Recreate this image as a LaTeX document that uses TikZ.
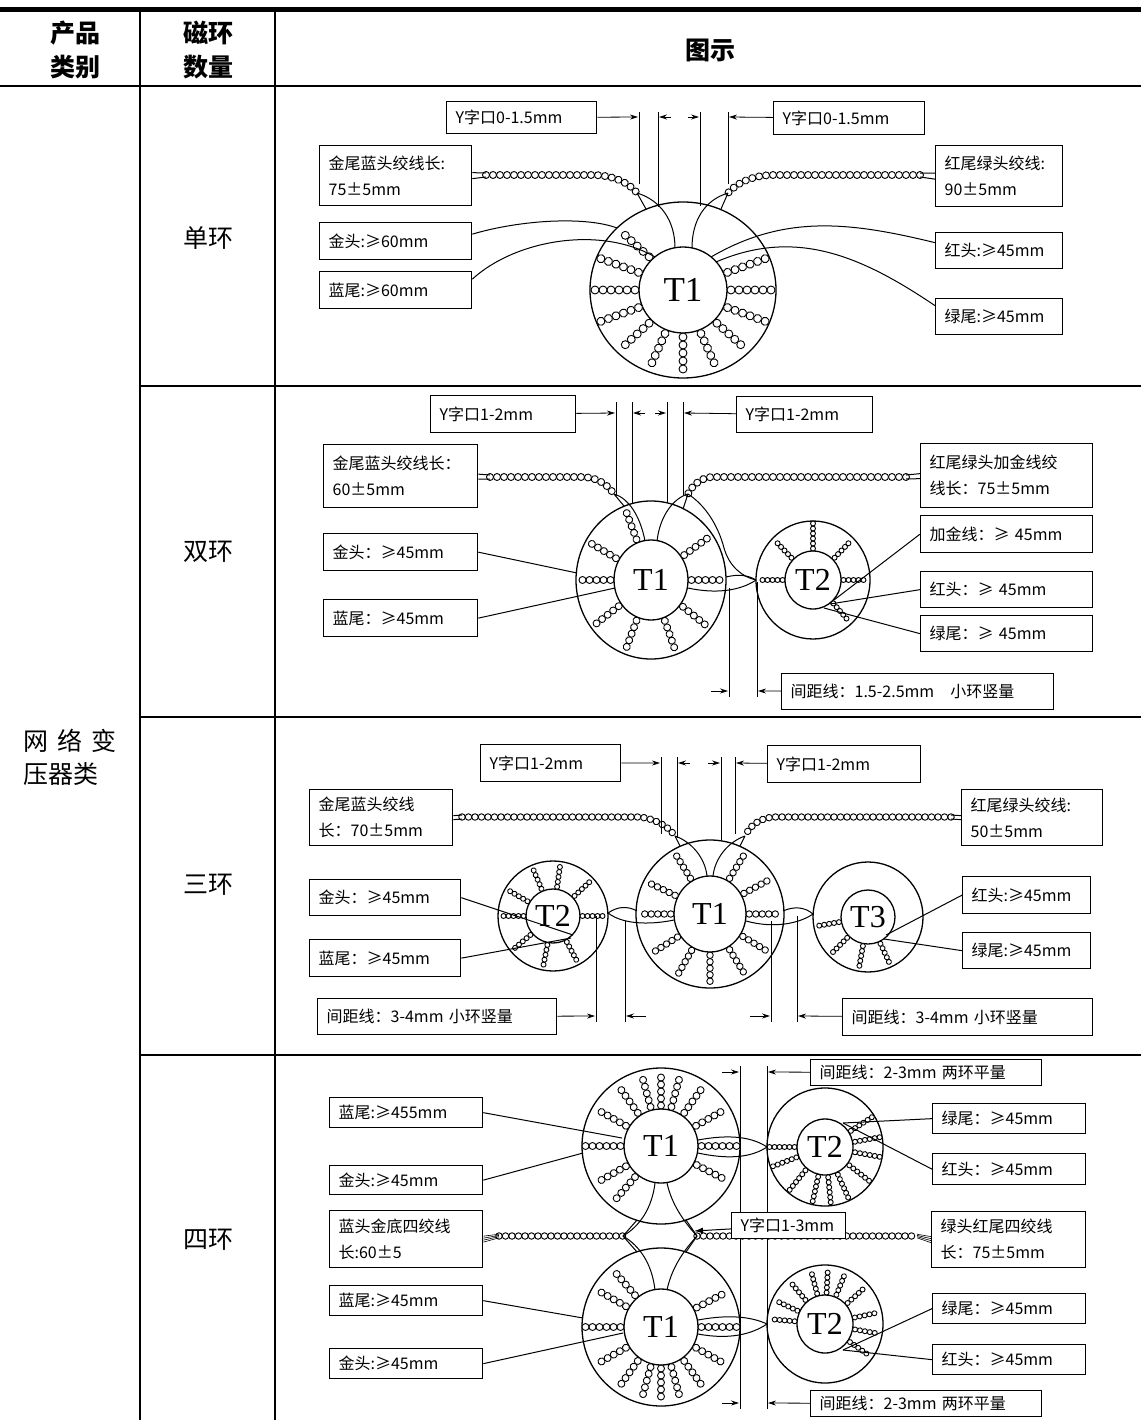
\documentclass[tikz,border=0pt]{standalone}
\usepackage{fontspec}
\setmainfont{Liberation Serif}
\newfontfamily\cjk{Noto Sans CJK SC}
\usetikzlibrary{arrows.meta,decorations.markings,calc}

\tikzset{
  grid/.style={line width=2.5pt},
  head/.style={font=\cjk\bfseries\fontsize{25}{34}\selectfont, align=center},
  cat/.style={font=\cjk\fontsize{25}{33}\selectfont, align=left},
  lbl/.style={draw, line width=1.3pt, fill=white, inner xsep=9pt, inner ysep=0pt, align=left, font=\cjk\fontsize{16}{26}\selectfont},
  tlabel/.style={inner sep=0pt, font=\fontsize{32}{32}\selectfont},
  ringline/.style={line width=1.3pt},
  wire/.style={line width=1pt},
  dimline/.style={line width=0.8pt},
  dimarrow/.style={line width=0.8pt, -{Stealth[length=8pt,width=5pt]}},
  bead/.style={line width=0.9pt, fill=white},
  beads/.style={postaction={decorate, decoration={markings,
    mark=between positions 0 and 1 step #1pt with {\draw[bead] (0,0) circle [radius={#1*0.5pt}];}}}},
}

% box: name, x1, y1, x2, y2, text
\newcommand\lbox[6]{%
  \pgfmathsetmacro\boxw{#4-#2-18}%
  \pgfmathsetmacro\boxh{#5-#3}%
  \node[lbl, anchor=north west, text width=\boxw pt, minimum height=\boxh pt] (#1) at (#2,#3) {#6};}

% ring: center, outer rx, outer ry, inner rx, inner ry, bead step, spoke angles, label, name
\newcommand\toroid[9]{%
  \coordinate (#9) at (#1);
  \draw[ringline] (#9) ellipse [x radius=#2, y radius=#3];
  \draw[ringline] (#9) ellipse [x radius=#4, y radius=#5];
  \foreach \a in {#7}{%
    \pgfmathsetmacro\ia{#4+#6/2}\pgfmathsetmacro\ib{#5+#6/2}%
    \pgfmathsetmacro\oa{#2-#6/2}\pgfmathsetmacro\ob{#3-#6/2}%
    \path[beads=#6] ($(#9)+({\ia*cos(\a)},{-\ib*sin(\a)})$) -- ($(#9)+({\oa*cos(\a)},{-\ob*sin(\a)})$);
  }
  \node[tlabel] at (#9) {#8};
}

\begin{document}
\begin{tikzpicture}[x=1pt, y=-1pt]
\useasboundingbox (0,0) rectangle (1141,1420);

% Table
\draw[line width=5pt] (0,10) -- (1141,10);
\draw[grid] (0,86) -- (1141,86);
\draw[grid] (140,8) -- (140,1420) (275,8) -- (275,1420);
\draw[grid] (140,386) -- (1141,386) (140,717) -- (1141,717) (140,1055) -- (1141,1055);
\node[head] (hcat) at (75,50) {产品\\类别};
\node[head] (hnum) at (208,50) {磁环\\数量};
\node[head] (hpic) at (710,50) {图示};
\node[cat, anchor=west] (net) at (20,757) {网\hspace{9pt}络\hspace{9pt}变\\压器类};
\node[cat] (n1) at (208,238) {单环};
\node[cat] (n2) at (208,552) {双环};
\node[cat] (n3) at (208,885) {三环};
\node[cat] (n4) at (208,1240) {四环};

% Single ring
\lbox{yl1}{446}{101}{596}{133}{Y字口0-1.5mm}
\lbox{yr1}{773}{101}{924}{134}{Y字口0-1.5mm}
\lbox{tpl1}{319}{145}{471}{205}{金尾蓝头绞线长:\\75±5mm}
\lbox{tpr1}{935}{145}{1062}{206}{红尾绿头绞线:\\90±5mm}
\lbox{jt1}{319}{222}{471}{259}{金头:≥60mm}
\lbox{lw1}{319}{271}{471}{308}{蓝尾:≥60mm}
\lbox{ht1}{935}{232}{1062}{268}{红头:≥45mm}
\lbox{gw1}{935}{298}{1062}{334}{绿尾:≥45mm}
\tikzset{tlabel/.append style={font=\fontsize{35}{35}\selectfont}}
\toroid{683,290}{93}{88}{44}{43}{8}{0,22,-22,-45,-68,-90,-112,-135,135,158,-158,180}{T1}{r1}
\tikzset{tlabel/.append style={font=\fontsize{32}{32}\selectfont}}
\coordinate (p1a) at (486,175); \coordinate (e1l) at (637,193);
\coordinate (p1b) at (920,175); \coordinate (e1r) at (728,193);
\path[beads=7] (p1a) -- (592,175) .. controls (612,175) and (628,182) .. (e1l);
\path[beads=7] (p1b) -- (774,175) .. controls (754,175) and (738,182) .. (e1r);
\draw[wire] ($(tpl1.east)+(0,-3)$) -- ($(p1a)+(0,-2)$) ($(tpl1.east)+(0,3)$) -- ($(p1a)+(0,2)$);
\draw[wire] ($(tpr1.west)+(0,-3)$) -- ($(p1b)+(0,-2)$) ($(tpr1.west)+(0,3)$) -- ($(p1b)+(0,2)$);
\coordinate (y1a) at (646,209); \coordinate (y1b) at (675,248);
\coordinate (y1c) at (721,209); \coordinate (y1d) at (692,248);
\draw[wire] (e1l) -- (y1a) (e1l) .. controls (660,200) and (675,220) .. (y1b);
\draw[wire] (e1r) -- (y1c) (e1r) .. controls (705,200) and (692,220) .. (y1d);
\coordinate (w1a) at (617,228); \coordinate (w1b) at (655,257);
\coordinate (w1c) at (711,257); \coordinate (w1d) at (716,262);
\draw[wire] ($(jt1.east)+(0,-7)$) .. controls (520,220) and (585,216) .. (w1a);
\draw[wire] ($(lw1.east)+(0,-11)$) .. controls (515,240) and (600,225) .. (w1b);
\draw[wire] ($(ht1.west)+(0,-8)$) .. controls (850,222) and (785,214) .. (w1c);
\draw[wire] ($(gw1.west)+(0,-11)$) .. controls (860,255) and (795,228) .. (w1d);
\draw[dimline] (639,112) -- (639,184) (658,112) -- (658,207) (700,112) -- (700,206) (728,112) -- (728,184);
\coordinate (d1a) at (638,117); \coordinate (d1b) at (729,117);
\draw[dimarrow] (yl1) -- (d1a);
\draw[dimarrow] (671,117) -- (659,117);
\draw[dimarrow] (688,117) -- (699,117);
\draw[dimarrow] (yr1) -- (d1b);

% Double ring
\lbox{yl2}{430}{395}{575}{432}{Y字口1-2mm}
\lbox{yr2}{736}{396}{872}{432}{Y字口1-2mm}
\lbox{tpl2}{323}{444}{477}{507}{金尾蓝头绞线长：\\60±5mm}
\lbox{tpr2}{920}{443}{1092}{507}{红尾绿头加金线绞\\线长：75±5mm}
\lbox{jt2}{323}{533}{477}{570}{金头：≥45mm}
\lbox{lw2}{323}{599}{477}{636}{蓝尾：≥45mm}
\lbox{jj2}{920}{515}{1092}{552}{加金线：≥ 45mm}
\lbox{ht2}{920}{571}{1092}{607}{红头：≥ 45mm}
\lbox{gw2}{920}{615}{1092}{651}{绿尾：≥ 45mm}
\lbox{gap2}{781}{673}{1053}{709}{间距线：1.5-2.5mm\quad 小环竖量}
\toroid{651,580}{75}{79}{37}{40}{7}{0,35,-38,-70,-111,-143,150,180,111}{T1}{r2a}
\toroid{813,580}{57}{59}{28}{29}{5}{90,135,45,180,0,-48}{T2}{r2b}
\coordinate (p2a) at (490,477); \coordinate (e2l) at (614,494);
\coordinate (p2b) at (906,477); \coordinate (e2r) at (688,494);
\path[beads=7] (p2a) -- (583,477) .. controls (600,478) and (608,486) .. (e2l);
\path[beads=7] (p2b) -- (712,477) .. controls (700,478) and (692,486) .. (e2r);
\draw[wire] ($(tpl2.east)+(0,-2)$) -- ($(p2a)+(0,-2)$) ($(tpl2.east)+(0,3)$) -- ($(p2a)+(0,2)$);
\draw[wire] ($(tpr2.west)+(0,-2)$) -- ($(p2b)+(0,-2)$) ($(tpr2.west)+(0,3)$) -- ($(p2b)+(0,2)$);
\coordinate (y2a) at (624,506); \coordinate (y2b) at (645,541);
\coordinate (y2c) at (683,509); \coordinate (y2d) at (657,541);
\coordinate (y2e) at (756,580);
\draw[wire] (e2l) -- (y2a) (e2l) .. controls (628,498) and (640,515) .. (y2b);
\draw[wire] (e2r) -- (y2c) (e2r) .. controls (674,498) and (660,515) .. (y2d);
\draw[wire] (e2r) .. controls (705,505) and (718,525) .. (724,548) .. controls (729,566) and (742,577) .. (y2e);
\coordinate (y2f) at (726,577); \coordinate (y2g) at (688,588);
\draw[wire] (y2f) .. controls (738,574) and (748,575) .. (y2e);
\draw[wire] (y2g) .. controls (715,594) and (740,591) .. (y2e);
\coordinate (y2h) at (577,573); \coordinate (y2i) at (615,588);
\coordinate (y2j) at (834,600); \coordinate (y2k) at (830,604); \coordinate (y2l) at (824,608);
\draw[wire] (jt2.east) -- (y2h);
\draw[wire] (lw2.east) -- (y2i);
\draw[wire] (jj2.west) -- (y2j);
\draw[wire] (ht2.west) -- (y2k);
\draw[wire] (gw2.west) -- (y2l);
\draw[dimline] (616,402) -- (616,495) (632,402) -- (632,503) (667,402) -- (667,503) (683,402) -- (683,495);
\coordinate (d2a) at (615,413); \coordinate (d2b) at (684,413);
\draw[dimarrow] (yl2) -- (d2a);
\draw[dimarrow] (645,413) -- (633,413);
\draw[dimarrow] (655,413) -- (666,413);
\draw[dimarrow] (yr2) -- (d2b);
\draw[dimline] (729,588) -- (729,697) (757,582) -- (757,697);
\coordinate (d2c) at (758,691);
\draw[dimarrow] (711,691) -- (728,691);
\draw[dimarrow] (gap2) -- (d2c);

% Triple ring
\lbox{yl3}{480}{744}{620}{781}{Y字口1-2mm}
\lbox{yr3}{767}{745}{920}{782}{Y字口1-2mm}
\lbox{tpl3}{309}{789}{452}{845}{金尾蓝头绞线\\长：70±5mm}
\lbox{tpr3}{961}{789}{1102}{845}{红尾绿头绞线:\\50±5mm}
\lbox{jt3}{309}{879}{460}{915}{金头：≥45mm}
\lbox{lw3}{309}{939}{460}{976}{蓝尾：≥45mm}
\lbox{ht3}{962}{876}{1090}{913}{红头:≥45mm}
\lbox{gw3}{962}{932}{1090}{968}{绿尾:≥45mm}
\lbox{gapl3}{317}{998}{556}{1034}{间距线：3-4mm 小环竖量}
\lbox{gapr3}{842}{998}{1092}{1035}{间距线：3-4mm 小环竖量}
\toroid{710,914}{74}{74}{36}{38}{6.5}{0,30,60,120,153,180,-146,-118,-90,-60,-33}{T1}{r3a}
\toroid{553,916}{55}{55}{27}{27}{5}{0,43,82,113,150,180,-140,-101,-62}{T2}{r3b}
\toroid{868,917}{55}{55}{27}{27}{5}{-170,-135,-100,-65}{T3}{r3c}
\coordinate (p3a) at (462,817); \coordinate (e3l) at (675,836);
\coordinate (p3b) at (951,817); \coordinate (e3r) at (745,836);
\path[beads=6.5] (p3a) -- (640,817) .. controls (655,819) and (668,826) .. (e3l);
\path[beads=6.5] (p3b) -- (773,817) .. controls (758,819) and (750,826) .. (e3r);
\draw[wire] ($(tpl3.east)+(0,-2)$) -- ($(p3a)+(0,-2)$) ($(tpl3.east)+(0,2)$) -- ($(p3a)+(0,2)$);
\draw[wire] ($(tpr3.west)+(0,-2)$) -- ($(p3b)+(0,-2)$) ($(tpr3.west)+(0,2)$) -- ($(p3b)+(0,2)$);
\coordinate (y3a) at (680,846); \coordinate (y3b) at (707,876);
\coordinate (y3c) at (740,846); \coordinate (y3d) at (713,876);
\draw[wire] (e3l) -- (y3a) (e3l) .. controls (692,842) and (705,858) .. (y3b);
\draw[wire] (e3r) -- (y3c) (e3r) .. controls (728,842) and (715,858) .. (y3d);
\coordinate (y3e) at (573,935); \coordinate (y3f) at (571,938);
\draw[wire] (jt3.east) -- (y3e);
\draw[wire] (lw3.east) -- (y3f);
\coordinate (y3g) at (608,913); \coordinate (y3h) at (637,911); \coordinate (y3i) at (674,920);
\draw[wire] (y3g) .. controls (618,906) and (628,906) .. (y3h);
\draw[wire] (y3g) .. controls (625,926) and (655,924) .. (y3i);
\coordinate (y3j) at (783,911); \coordinate (y3k) at (813,914); \coordinate (y3l) at (746,921);
\draw[wire] (y3j) .. controls (794,906) and (805,907) .. (y3k);
\draw[wire] (y3l) .. controls (775,929) and (800,923) .. (y3k);
\coordinate (y3m) at (886,935); \coordinate (y3n) at (884,939);
\draw[wire] (ht3.west) -- (y3m);
\draw[wire] (gw3.west) -- (y3n);
\draw[dimline] (661,757) -- (661,834) (677,757) -- (677,838) (721,757) -- (721,840) (735,757) -- (735,834);
\coordinate (d3a) at (660,763); \coordinate (d3b) at (736,763);
\draw[dimarrow] (yl3) -- (d3a);
\draw[dimarrow] (690,763) -- (678,763);
\draw[dimarrow] (708,763) -- (720,763);
\draw[dimarrow] (yr3) -- (d3b);
\draw[dimline] (596,916) -- (596,1022) (625,921) -- (625,1022) (771,921) -- (771,1022) (797,916) -- (797,1022);
\coordinate (d3c) at (595,1016); \coordinate (d3d) at (798,1016);
\draw[dimarrow] (gapl3) -- (d3c);
\draw[dimarrow] (646,1016) -- (626,1016);
\draw[dimarrow] (750,1016) -- (770,1016);
\draw[dimarrow] (gapr3) -- (d3d);

% Four rings
\lbox{lwa}{329}{1097}{482}{1127}{蓝尾:≥455mm}
\lbox{jta}{329}{1165}{482}{1194}{金头:≥45mm}
\lbox{tpl4}{329}{1210}{482}{1267}{蓝头金底四绞线\\长:60±5}
\lbox{lwb}{329}{1285}{482}{1315}{蓝尾:≥45mm}
\lbox{jtb}{329}{1348}{482}{1378}{金头:≥45mm}
\lbox{gapa}{810}{1059}{1041}{1085}{间距线：2-3mm 两环平量}
\lbox{gwa}{932}{1103}{1085}{1133}{绿尾：≥45mm}
\lbox{hta}{932}{1153}{1085}{1184}{红头：≥45mm}
\lbox{tpr4}{931}{1211}{1085}{1267}{绿头红尾四绞线\\长：75±5mm}
\lbox{gwb}{932}{1293}{1085}{1323}{绿尾：≥45mm}
\lbox{htb}{932}{1344}{1085}{1374}{红头：≥45mm}
\lbox{gapb}{810}{1390}{1041}{1416}{间距线：2-3mm 两环平量}
\toroid{661,1146}{79}{78}{37}{37}{7}{0,30,55,75,90,105,125,150,180,-150,-130,-28}{T1}{r4a}
\toroid{661,1327}{79}{79}{37}{38}{7}{0,-30,-55,-75,-90,-105,-125,-150,180,150,130,28}{T1}{r4b}
\toroid{825,1147}{58}{59}{28}{28}{5}{180,-160,-130,-103,-84,-65,-37,-10,10,32}{T2}{r4c}
\toroid{825,1324}{58}{59}{28}{29}{5}{175,155,130,105,87,68,42,12,-10,-35}{T2}{r4d}
\coordinate (p4a) at (499,1236); \coordinate (e4l) at (623,1236);
\coordinate (p4b) at (917,1236); \coordinate (e4r) at (697,1236);
\path[beads=6.5] (p4a) -- (e4l);
\path[beads=6.5] (e4r) -- (p4b);
\foreach \d in {-3,-1,1,3} {
  \draw[wire, line width=0.6pt] ($(tpl4.east)+(0,\d)$) -- ($(p4a)+(0,\d*0.6)$);
  \draw[wire, line width=0.6pt] ($(tpr4.west)+(0,\d)$) -- ($(p4b)+(0,\d*0.6)$);
}
\coordinate (y4a) at (655,1183); \coordinate (y4b) at (667,1183);
\coordinate (y4c) at (655,1290); \coordinate (y4d) at (667,1290);
\draw[wire] (y4a) .. controls (652,1208) and (640,1226) .. (e4l);
\draw[wire] (y4b) .. controls (672,1206) and (686,1224) .. (e4r);
\draw[wire] (y4c) .. controls (652,1264) and (640,1246) .. (e4l);
\draw[wire] (y4d) .. controls (672,1266) and (686,1248) .. (e4r);
\coordinate (y4e) at (637,1220); \coordinate (y4f) at (686,1220);
\coordinate (y4g) at (637,1252); \coordinate (y4h) at (686,1252);
\draw[wire] (e4l) -- (y4e) (e4r) -- (y4f) (e4l) -- (y4g) (e4r) -- (y4h);
\coordinate (y4i) at (622,1138); \coordinate (y4j) at (583,1153);
\coordinate (y4k) at (583,1318); \coordinate (y4l) at (623,1333);
\draw[wire] (lwa.east) -- (y4i);
\draw[wire] (jta.east) -- (y4j);
\draw[wire] (lwb.east) -- (y4k);
\draw[wire] (jtb.east) -- (y4l);
\coordinate (y4m) at (698,1140); \coordinate (y4n) at (698,1153); \coordinate (y4o) at (767,1147);
\draw[wire] (y4m) .. controls (730,1134) and (752,1137) .. (y4o);
\draw[wire] (y4n) .. controls (730,1160) and (752,1157) .. (y4o);
\coordinate (y4q) at (698,1320); \coordinate (y4r) at (698,1334); \coordinate (y4s) at (767,1324);
\draw[wire] (y4q) .. controls (730,1314) and (752,1317) .. (y4s);
\draw[wire] (y4r) .. controls (730,1340) and (752,1334) .. (y4s);
\coordinate (y4t) at (843,1123); \coordinate (y4u) at (843,1350);
\draw[wire] (gwa.west) -- (y4t);
\draw[wire] (hta.west) -- (y4t);
\draw[wire] (gwb.west) -- (y4u);
\draw[wire] (htb.west) -- (y4u);
\draw[dimline] (740,1066) -- (740,1409) (767,1066) -- (767,1409);
\coordinate (d4a) at (768,1072); \coordinate (d4b) at (768,1403);
\draw[dimarrow] (722,1072) -- (739,1072);
\draw[dimarrow] (gapa) -- (d4a);
\draw[dimarrow] (722,1403) -- (739,1403);
\draw[dimarrow] (gapb) -- (d4b);
\lbox{y4}{731}{1212}{845}{1238}{Y字口1-3mm}
\coordinate (y4p) at (694,1231);
\draw[wire, -{Latex[length=9pt,width=6pt]}] (y4) -- (y4p);
\end{tikzpicture}
\end{document}
